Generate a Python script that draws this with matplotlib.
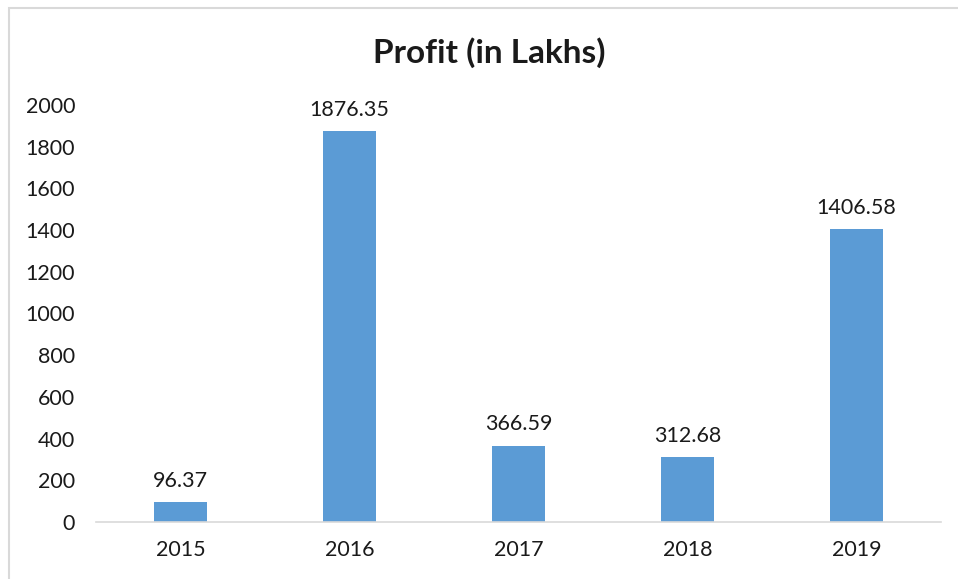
import matplotlib
matplotlib.use("Agg")
import matplotlib.pyplot as plt
from matplotlib.patches import Rectangle

years = ["2015", "2016", "2017", "2018", "2019"]
profit = [96.37, 1876.35, 366.59, 312.68, 1406.58]
yticks = [0, 200, 400, 600, 800, 1000, 1200, 1400, 1600, 1800, 2000]

plt.rcParams['font.family'] = ['Lato', 'DejaVu Sans']

fig = plt.figure(figsize=(9.58, 5.79), dpi=100)
ax = fig.add_axes([0.1002, 0.0984, 0.882, 0.7203])

x = range(len(years))
bars = ax.bar(x, profit, width=0.31, color='#5B9BD5')
for xi, v in zip(x, profit):
    ax.annotate(f"{v:.2f}", (xi, v), xytext=(0, 8), textcoords='offset points',
                ha='center', va='bottom', fontsize=15.5, color='#1a1a1a')

ax.set_xlim(-0.5, len(years) - 0.5)
ax.set_ylim(0, 2000)
ax.set_yticks(yticks)
ax.set_xticks(list(x))
ax.set_xticklabels(years)
ax.tick_params(axis='both', length=0, labelsize=15.5, colors='#1a1a1a')
ax.tick_params(axis='y', pad=15)
ax.tick_params(axis='x', pad=13)
for s in ['top', 'right', 'left']:
    ax.spines[s].set_visible(False)
ax.spines['bottom'].set_color('#D9D9D9')
ax.spines['bottom'].set_linewidth(1.2)

fig.text(0.511, 0.91, "Profit (in Lakhs)", ha='center', va='center',
         fontsize=24, fontweight='bold', color='#1a1a1a')

# outer chart border (cut off at right and bottom)
fig.patches.append(Rectangle((8.5 / 958, -0.05), 2.0, 1.05 - 7.5 / 579,
                             transform=fig.transFigure, fill=False,
                             edgecolor='#D9D9D9', linewidth=1.5))

fig.savefig("out.png", dpi=100)
